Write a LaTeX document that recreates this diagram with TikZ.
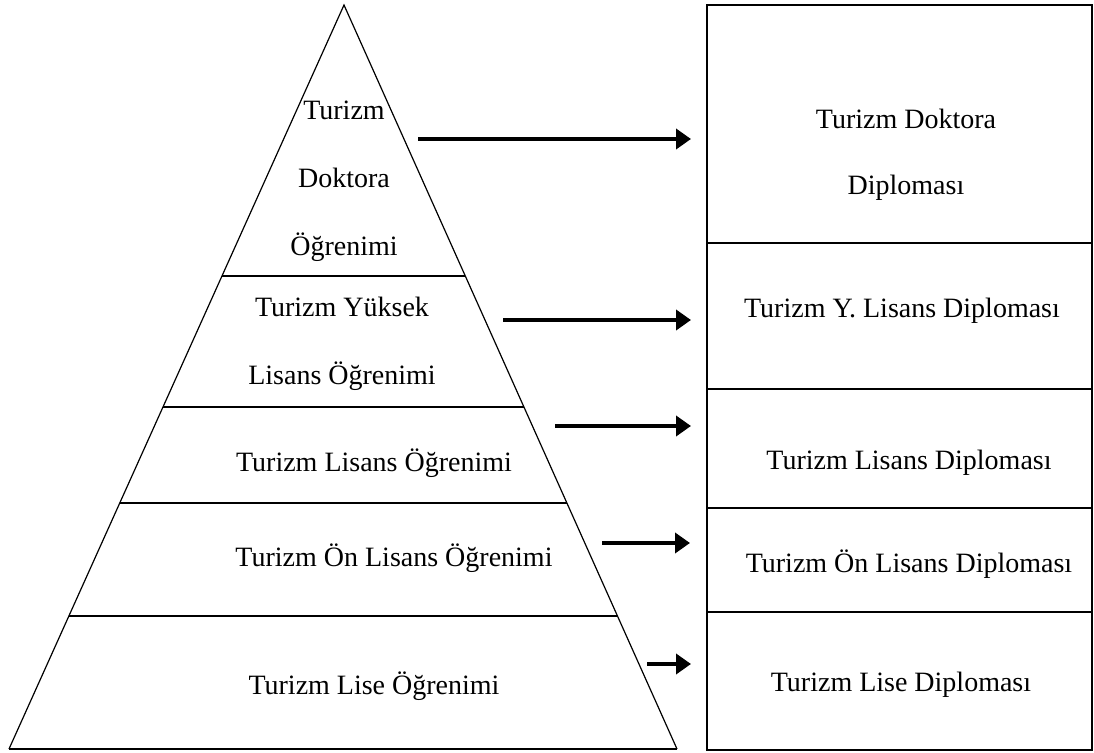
\documentclass[tikz,border=0pt]{standalone}
\usepackage{fontspec}
\setmainfont{Liberation Serif}
\usetikzlibrary{arrows.meta, calc}

\begin{document}
\begin{tikzpicture}[
  x=0.5pt, y=-0.5pt,
  level/.style={font=\fontsize{14}{34}\selectfont, align=center, inner sep=0pt},
  diploma/.style={font=\fontsize{14}{33}\selectfont, align=center, inner sep=0pt},
  tier/.style={line width=0.6pt},
  frame/.style={line width=0.9pt},
  toarrow/.style={line width=2pt, -{Triangle[length=7.5pt, width=10pt]}}
]
  \useasboundingbox (0,0) rectangle (1094,753);

  % pyramid
  \coordinate (apex) at (344,5);
  \coordinate (bl) at (9,749);
  \coordinate (br) at (677,749);
  \draw[tier] (bl) -- (apex) -- (br);
  \draw[frame] (bl) -- (br);
  \foreach \t/\n in {0.3642/1, 0.5403/2, 0.6694/3, 0.8212/4}
    \draw[tier] ($(apex)!\t!(bl)$) -- ($(apex)!\t!(br)$);

  \node[level] (l1) at (344,181) {Turizm\\Doktora\\Öğrenimi};
  \node[level] (l2) at (342,344) {Turizm Yüksek\\Lisans Öğrenimi};
  \node[level] (l3) at (374,463) {Turizm Lisans Öğrenimi};
  \node[level] (l4) at (394,558) {Turizm Ön Lisans Öğrenimi};
  \node[level] (l5) at (374,686) {Turizm Lise Öğrenimi};

  % diploma column
  \draw[frame] (707,5) rectangle (1092,750);
  \foreach \y in {243, 389, 508, 612}
    \draw[frame] (707,\y) -- (1092,\y);

  \node[diploma] (d1) at (906,155) {Turizm Doktora\\Diploması};
  \node[diploma] (d2) at (902,311) {Turizm Y. Lisans Diploması};
  \node[diploma] (d3) at (909,463) {Turizm Lisans Diploması};
  \node[diploma] (d4) at (909,564) {Turizm Ön Lisans Diploması};
  \node[diploma] (d5) at (901,685) {Turizm Lise Diploması};

  % arrows
  \coordinate (a1) at (418,139);  \coordinate (b1) at (691,139);
  \coordinate (a2) at (503,320);  \coordinate (b2) at (691,320);
  \coordinate (a3) at (555,426);  \coordinate (b3) at (691,426);
  \coordinate (a4) at (602,543);  \coordinate (b4) at (690,543);
  \coordinate (a5) at (647,664);  \coordinate (b5) at (691,664);
  \foreach \i in {1,...,5}
    \draw[toarrow] (a\i) -- (b\i);

\end{tikzpicture}
\end{document}
